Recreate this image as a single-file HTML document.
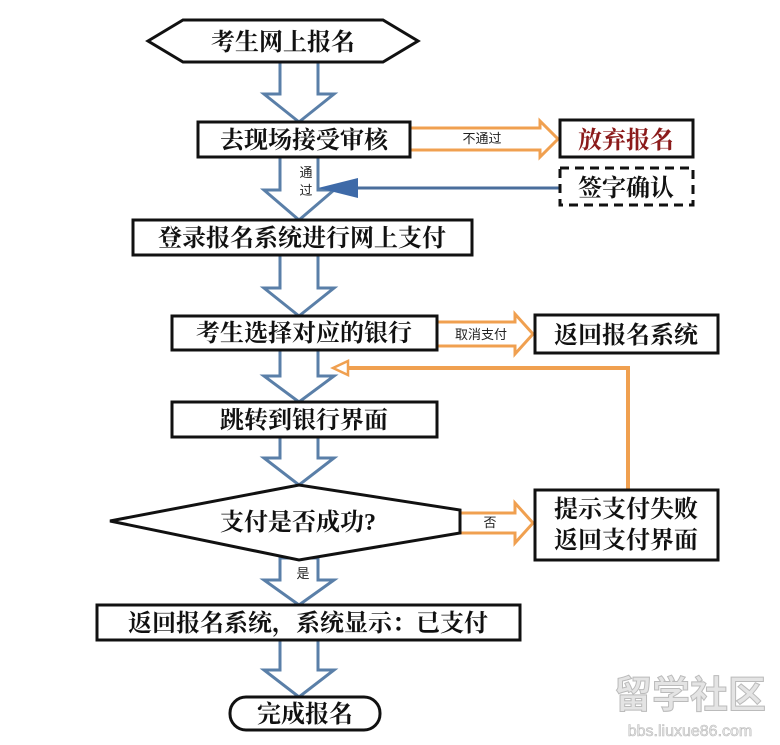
<!DOCTYPE html>
<html><head><meta charset="utf-8"><style>
body{margin:0;background:#fff;}
svg{display:block;}
.t{font-family:"Liberation Serif","Noto Serif CJK SC",serif;font-weight:bold;font-size:24px;fill:#111;}
.s{font-family:"Liberation Sans","Noto Sans CJK SC",sans-serif;font-size:13px;fill:#222;}
</style></head><body>
<svg width="780" height="745" viewBox="0 0 780 745" xmlns="http://www.w3.org/2000/svg">
<defs>
<g id="da"><path d="M0 0 H18 V28 H35 L0 62 L-35 28 H-18 V0 Z" transform="translate(0,0)"/></g>
</defs>
<g fill="#fff" stroke="#5a7fa8" stroke-width="3">
<path d="M280 62 H318 V94 H334 L299 122 L264 94 H280 Z"/>
<path d="M280 157 H318 V190 H334 L299 220 L264 190 H280 Z"/>
<path d="M280 255 H318 V288 H334 L299 316 L264 288 H280 Z"/>
<path d="M280 350 H318 V376 H334 L299 402 L264 376 H280 Z"/>
<path d="M280 437 H318 V458 H334 L299 485 L264 458 H280 Z"/>
<path d="M280 558 H318 V580 H334 L299 605 L264 580 H280 Z"/>
<path d="M280 640 H318 V670 H334 L299 697 L264 670 H280 Z"/>
</g>
<!-- orange arrows -->
<g fill="#fff" stroke="#f0a050" stroke-width="3">
<path d="M410 128 H540 V121 L558 139 L540 157 V150 H410 Z"/>
<path d="M437 322 H515 V314 L533 334 L515 354 V346 H437 Z"/>
<path d="M458 513 H515 V503 L533 523 L515 543 V533 H458 Z"/>
</g>
<polyline points="628,490 628,368 345,368" fill="none" stroke="#f0a050" stroke-width="4"/>
<path d="M333 368 L348 361 L348 375 Z" fill="#fff" stroke="#f0a050" stroke-width="2.5"/>
<!-- blue line -->
<line x1="560" y1="188" x2="350" y2="188" stroke="#4a6e9c" stroke-width="3"/>
<path d="M318 188 L358 178 L358 198 Z" fill="#3e6aa8"/>
<!-- nodes -->
<g fill="#fff" stroke="#111" stroke-width="3">
<path d="M148 41 L183 20 H383 L418 41 L383 62 H183 Z"/>
<rect x="198" y="122" width="212" height="35"/>
<rect x="560" y="120" width="133" height="37"/>
<rect x="133" y="220" width="339" height="35"/>
<rect x="172" y="316" width="265" height="34"/>
<rect x="535" y="315" width="183" height="38"/>
<rect x="172" y="402" width="265" height="35"/>
<path d="M110 521 L299 485 L460 510 V533 L299 560 Z"/>
<rect x="535" y="490" width="183" height="70"/>
<rect x="97" y="605" width="423" height="35"/>
<rect x="230" y="697" width="150" height="33" rx="16"/>
</g>
<rect x="560" y="168" width="133" height="37" fill="#fff" stroke="#111" stroke-width="3" stroke-dasharray="9,6"/>
<!-- text -->
<g class="t" text-anchor="middle">
<text x="283" y="50">考生网上报名</text>
<text x="304" y="148">去现场接受审核</text>
<text x="626" y="148" style="fill:#8b1a1a">放弃报名</text>
<text x="626" y="196">签字确认</text>
<text x="302" y="246">登录报名系统进行网上支付</text>
<text x="304" y="341">考生选择对应的银行</text>
<text x="626" y="343">返回报名系统</text>
<text x="304" y="428">跳转到银行界面</text>
<text x="298" y="530">支付是否成功?</text>
<text x="626" y="517">提示支付失败</text>
<text x="626" y="548">返回支付界面</text>
<text x="308" y="631">返回报名系统，系统显示：已支付</text>
<text x="305" y="722">完成报名</text>
</g>
<g class="s" text-anchor="middle">
<text x="482" y="143">不通过</text>
<text x="306" y="177">通</text>
<text x="306" y="195">过</text>
<text x="481" y="339">取消支付</text>
<text x="490" y="527">否</text>
<text x="303" y="578">是</text>
</g>
<text x="690" y="708" text-anchor="middle" style="font-family:'Noto Sans CJK SC',sans-serif;font-weight:bold;font-size:38px;fill:#e4e4e4;stroke:#bbb;stroke-width:1">留学社区</text>
<text x="690" y="736" text-anchor="middle" style="font-family:'Liberation Sans',sans-serif;font-size:16px;fill:#e8e8e8;stroke:#bbb;stroke-width:0.6">bbs.liuxue86.com</text>
</svg>
</body></html>
